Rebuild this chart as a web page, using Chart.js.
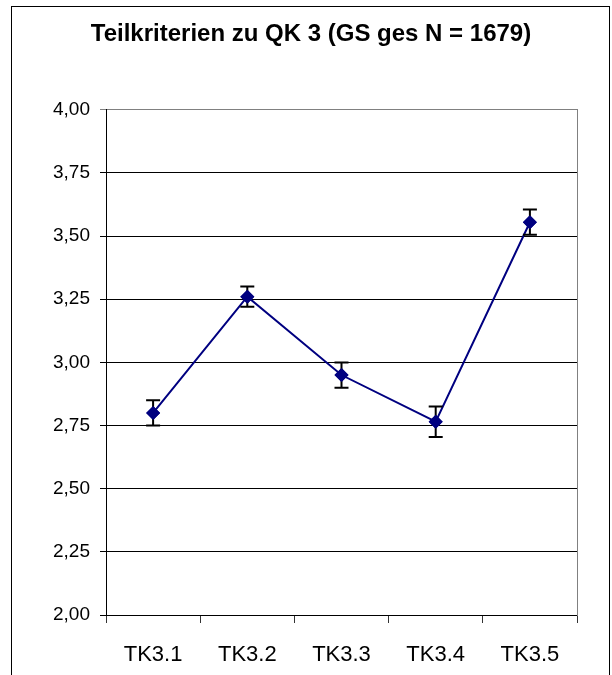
<!DOCTYPE html>
<html>
<head>
<meta charset="utf-8">
<script src="https://cdn.jsdelivr.net/npm/chart.js@4/dist/chart.umd.min.js"></script>
<style>
  html, body { margin: 0; padding: 0; background: #fff; }
  canvas { display: block; }
</style>
</head>
<body>
<canvas id="qkChart" width="612" height="675"></canvas>
<script>
// categories and values
var labels = ['TK3.1', 'TK3.2', 'TK3.3', 'TK3.4', 'TK3.5'];
var means = [2.80, 3.26, 2.95, 2.765, 3.555];
var errors = [0.05, 0.04, 0.05, 0.06, 0.05];
var titleText = 'Teilkriterien zu QK 3 (GS ges N = 1679)';

var fontFam = "'Liberation Sans', Arial, sans-serif";

// outer frame of the chart object
var framePlugin = {
  id: 'frame',
  beforeDraw: function (chart) {
    var c = chart.ctx;
    c.save();
    c.fillStyle = '#fff';
    c.fillRect(0, 0, chart.width, chart.height);
    c.strokeStyle = '#000';
    c.lineWidth = 1;
    c.strokeRect(11.5, 6.5, 598, 700);
    c.restore();
  }
};

// error bars, markers redrawn on top
var errorBarPlugin = {
  id: 'errorBars',
  afterDatasetsDraw: function (chart) {
    var c = chart.ctx;
    var y = chart.scales.y;
    var meta = chart.getDatasetMeta(0);
    c.save();
    c.strokeStyle = '#000';
    c.lineWidth = 2;
    for (var i = 0; i < meta.data.length; i++) {
      var x = meta.data[i].x;
      var top = y.getPixelForValue(means[i] + errors[i]);
      var bot = y.getPixelForValue(means[i] - errors[i]);
      c.beginPath();
      c.moveTo(x, top); c.lineTo(x, bot);
      c.moveTo(x - 7, top); c.lineTo(x + 7, top);
      c.moveTo(x - 7, bot); c.lineTo(x + 7, bot);
      c.stroke();
    }
    for (var j = 0; j < meta.data.length; j++) {
      meta.data[j].draw(c);
    }
    c.restore();
  }
};

var ctx = document.getElementById('qkChart');
var qkChart = new Chart(ctx, {
  type: 'line',
  data: {
    labels: labels,
    datasets: [{
      data: means,
      borderColor: '#000080',
      backgroundColor: '#000080',
      borderWidth: 2,
      pointStyle: 'rectRot',
      pointRadius: 7,
      pointHoverRadius: 7,
      pointBorderWidth: 0,
      tension: 0,
      fill: false
    }]
  },
  options: {
    responsive: false,
    animation: false,
    events: [],
    layout: { padding: { left: 12, right: 2, top: 0, bottom: 0 } },
    plugins: {
      legend: { display: false },
      tooltip: { enabled: false },
      title: {
        display: true,
        text: titleText,
        color: '#000',
        font: { family: fontFam, size: 24, weight: 'bold' },
        padding: { top: 20, bottom: 61 }
      }
    },
    scales: {
      x: {
        offset: true,
        grid: {
          offset: true,
          drawOnChartArea: false,
          drawTicks: true,
          tickLength: 8,
          color: '#333',
          lineWidth: 1
        },
        border: { display: true, color: '#000', width: 1 },
        ticks: {
          color: '#000',
          padding: 19,
          font: { family: fontFam, size: 22 }
        },
        afterFit: function (scale) { scale.height = 60; }
      },
      y: {
        min: 2,
        max: 4,
        grid: {
          color: function (c) { return c.tick && c.tick.value === 4 ? '#808080' : '#000'; },
          lineWidth: 1,
          tickLength: 6
        },
        border: { display: true, color: '#000', width: 1 },
        ticks: {
          stepSize: 0.25,
          color: '#000',
          padding: 10,
          font: { family: fontFam, size: 19 },
          callback: function (v) { return Number(v).toFixed(2).replace('.', ','); }
        },
        afterFit: function (scale) { scale.width = 94; }
      },
      y2: {
        position: 'right',
        min: 2,
        max: 4,
        grid: { display: false },
        border: { display: true, color: '#808080', width: 1 },
        ticks: { display: false },
        afterFit: function (scale) { scale.width = 33; }
      }
    }
  },
  plugins: [framePlugin, errorBarPlugin]
});
</script>
</body>
</html>
